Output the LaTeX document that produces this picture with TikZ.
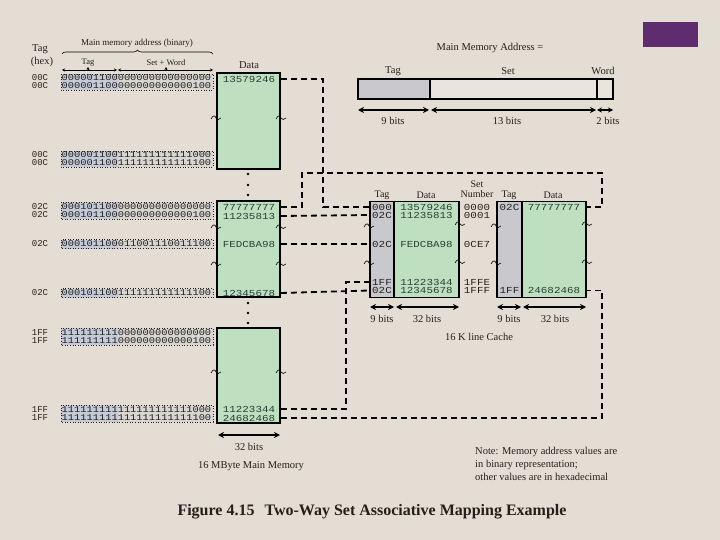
\documentclass[tikz,border=0pt]{standalone}
\usepackage{fontspec}
\setmainfont{Liberation Serif}
\setmonofont{Liberation Mono}
\newfontfamily\widemono[FakeStretch=1.18]{Liberation Mono}
\usetikzlibrary{arrows.meta,decorations.pathreplacing}
\definecolor{bg}{RGB}{227,221,211}
\definecolor{memgreen}{RGB}{190,224,192}
\definecolor{taggray}{RGB}{200,200,205}
\definecolor{addrblue}{RGB}{196,202,216}
\definecolor{addrrest}{RGB}{216,214,210}
\definecolor{setlight}{RGB}{233,229,221}
\definecolor{datatext}{RGB}{40,62,52}
\definecolor{purp}{RGB}{96,44,112}
\definecolor{ink}{RGB}{35,32,28}
\begin{document}
\begin{tikzpicture}[x=1pt,y=-1pt,
  lbl/.style={font=\fontsize{10.5}{12}\selectfont, inner sep=0, text=ink},
  bits/.style={font=\widemono\fontsize{8.8}{9}\selectfont, inner sep=0, anchor=west, text=ink},
  hexf/.style={font=\ttfamily\fontsize{9}{9}\selectfont, inner sep=0, text=ink},
  datf/.style={font=\widemono\fontsize{9.2}{9}\selectfont, inner sep=0, text=datatext},
  cachef/.style={font=\widemono\fontsize{9.2}{9}\selectfont, inner sep=0, text=ink},
  membox/.style={draw=black, line width=1.8pt, fill=memgreen, minimum width=63pt, inner sep=0},
  tagcol/.style={draw=black, line width=1.8pt, fill=taggray, inner sep=0},
  datacol/.style={draw=black, line width=1.8pt, fill=memgreen, inner sep=0},
  conn/.style={line width=1.8pt, dash pattern=on 6pt off 4pt, draw=black},
  dimarr/.style={line width=1.4pt, {Stealth[length=6pt,width=6pt]}-{Stealth[length=6pt,width=6pt]}},
  addrbox/.style={dotted, line width=0.6pt, draw=ink},
  brk/.pic={\draw[line width=0.6pt] (-5,1) .. controls (-3,-3) and (-1,-3) .. (0,0) .. controls (1,2) and (3,2) .. (5,0);}
]
\useasboundingbox[fill=bg] (0,0) rectangle (720,540);

% purple tab
\fill[purp] (643,22) rectangle (698,47);

% ---------- left headings ----------
\node[lbl] (hTag) at (40,49) {Tag};
\node[lbl] (hHex) at (42,62) {(hex)};
\node[lbl, font=\fontsize{9}{10}\selectfont] (hMain) at (137,43) {Main memory address (binary)};
\draw[decorate, decoration={brace, amplitude=4pt}, line width=0.6pt] (62,54) -- (213,54);
\node[lbl, font=\fontsize{8.5}{10}\selectfont] (hTag2) at (88,63) {Tag};
\node[lbl, font=\fontsize{8.5}{10}\selectfont] (hSW) at (166,63) {Set + Word};
\draw[line width=0.5pt, {Stealth[length=3pt,width=3pt]}-{Stealth[length=3pt,width=3pt]}] (62,70) -- (117,70);
\draw[line width=0.5pt, {Stealth[length=3pt,width=3pt]}-{Stealth[length=3pt,width=3pt]}] (118,70) -- (213,70);
\draw[line width=0.5pt, -{Stealth[length=3pt,width=3pt]}] (88,71) -- (88,67);
\draw[line width=0.5pt, -{Stealth[length=3pt,width=3pt]}] (166,71) -- (166,67);
\node[lbl] (hData) at (249,65) {Data};

% ---------- address rows ----------
% pair A
\fill[addrrest] (61,74) rectangle (213,90);
\fill[addrblue] (61,74) rectangle (117.5,90);
\draw[addrbox] (61,74) rectangle (213,90);
\node[bits] (bA1) at (61.5,78) {000001100000000000000000};
\node[bits] (bA2) at (61.5,86) {000001100000000000000100};
\node[hexf] (xA1) at (40,78) {00C};
\node[hexf] (xA2) at (40,86) {00C};
% pair B
\fill[addrrest] (61,151) rectangle (213,167);
\fill[addrblue] (61,151) rectangle (117.5,167);
\draw[addrbox] (61,151) rectangle (213,167);
\node[bits] (bB1) at (61.5,155) {000001100111111111111000};
\node[bits] (bB2) at (61.5,163) {000001100111111111111100};
\node[hexf] (xB1) at (40,155) {00C};
\node[hexf] (xB2) at (40,163) {00C};
% pair C
\fill[addrrest] (61,202.5) rectangle (213,219.5);
\fill[addrblue] (61,202.5) rectangle (117.5,219.5);
\draw[addrbox] (61,202.5) rectangle (213,219.5);
\node[bits] (bC1) at (61.5,207) {000101100000000000000000};
\node[bits] (bC2) at (61.5,215) {000101100000000000000100};
\node[hexf] (xC1) at (40,207) {02C};
\node[hexf] (xC2) at (40,215) {02C};
% row D
\fill[addrrest] (61,239.5) rectangle (213,248.5);
\fill[addrblue] (61,239.5) rectangle (117.5,248.5);
\draw[addrbox] (61,239.5) rectangle (213,248.5);
\node[bits] (bD) at (61.5,244) {000101100011001110011100};
\node[hexf] (xD) at (40,244) {02C};
% row E
\fill[addrrest] (61,288.5) rectangle (213,297.5);
\fill[addrblue] (61,288.5) rectangle (117.5,297.5);
\draw[addrbox] (61,288.5) rectangle (213,297.5);
\node[bits] (bE) at (61.5,293) {000101100111111111111100};
\node[hexf] (xE) at (40,293) {02C};
% pair F
\fill[addrrest] (61,328) rectangle (213,345);
\fill[addrblue] (61,328) rectangle (117.5,345);
\draw[addrbox] (61,328) rectangle (213,345);
\node[bits] (bF1) at (61.5,332.5) {111111111000000000000000};
\node[bits] (bF2) at (61.5,340.5) {111111111000000000000100};
\node[hexf] (xF1) at (40,332.5) {1FF};
\node[hexf] (xF2) at (40,340.5) {1FF};
% pair G
\fill[addrrest] (61,405) rectangle (213,422);
\fill[addrblue] (61,405) rectangle (117.5,422);
\draw[addrbox] (61,405) rectangle (213,422);
\node[bits] (bG1) at (61.5,409.5) {111111111111111111111000};
\node[bits] (bG2) at (61.5,417.5) {111111111111111111111100};
\node[hexf] (xG1) at (40,409.5) {1FF};
\node[hexf] (xG2) at (40,417.5) {1FF};

% ---------- main memory boxes ----------
\node[membox, minimum height=96pt] (box1) at (248.5,121) {};
\node[membox, minimum height=96pt] (box2) at (248.5,249) {};
\node[membox, minimum height=95pt] (box3) at (248.5,375.5) {};
\node[datf] (d1) at (249,79) {13579246};
\node[datf] (d2) at (249,207) {77777777};
\node[datf] (d3) at (249,216) {11235813};
\node[datf] (d4) at (249,244) {FEDCBA98};
\node[datf] (d5) at (249,293) {12345678};
\node[datf] (d6) at (249,409) {11223344};
\node[datf] (d7) at (249,418) {24682468};
% dots
\foreach \yy in {174,185,195} \fill (248,\yy) circle (1.3pt);
\foreach \yy in {303,313,323} \fill (248,\yy) circle (1.3pt);
% breaks
\pic at (216,118) {brk}; \pic at (281,118) {brk};
\pic at (216,227) {brk}; \pic at (281,227) {brk};
\pic at (216,264) {brk}; \pic at (281,264) {brk};
\pic at (216,372) {brk}; \pic at (281,372) {brk};
% 32 bits
\draw[dimarr] (218,435) -- (280,435);
\node[lbl] (mm32) at (249,447) {32 bits};
\node[lbl] (mmcap) at (251,466) {16 MByte Main Memory};

% ---------- address format ----------
\node[lbl] (fTitle) at (490,48) {Main Memory Address =};
\node[lbl] (fTag) at (393,71) {Tag};
\node[lbl] (fSet) at (508,71) {Set};
\node[lbl] (fWord) at (603,71) {Word};
\draw[line width=1.2pt, fill=taggray] (358,79) rectangle (430,99);
\draw[line width=1.2pt, fill=setlight] (430,79) rectangle (597,99);
\draw[line width=1.2pt, fill=setlight] (597,79) rectangle (613,99);
\draw[dimarr] (358,110) -- (429,110);
\draw[dimarr] (431,110) -- (596,110);
\draw[line width=1.2pt, {Stealth[length=5pt,width=5pt]}-{Stealth[length=5pt,width=5pt]}] (597,110) -- (613,110);
\node[lbl] (f9) at (393,121) {9 bits};
\node[lbl] (f13) at (507,121) {13 bits};
\node[lbl] (f2) at (608,121) {2 bits};

% ---------- cache ----------
\node[lbl, font=\fontsize{10}{11}\selectfont] (cTag1) at (382,195) {Tag};
\node[lbl, font=\fontsize{10}{11}\selectfont] (cData1) at (426,195) {Data};
\node[lbl, font=\fontsize{10}{11}\selectfont, align=center] (cSet) at (477,189) {Set\\[-1.5pt]Number};
\node[lbl, font=\fontsize{10}{11}\selectfont] (cTag2) at (509,195) {Tag};
\node[lbl, font=\fontsize{10}{11}\selectfont] (cData2) at (553,195) {Data};

\node[tagcol, minimum width=24pt, minimum height=96pt] (c1tag) at (382,249.5) {};
\node[datacol, minimum width=65pt, minimum height=96pt] (c1data) at (426.5,249.5) {};
\node[tagcol, minimum width=25pt, minimum height=96pt] (c2tag) at (509.5,249.5) {};
\node[datacol, minimum width=64pt, minimum height=96pt] (c2data) at (554,249.5) {};

\node[cachef] (t1) at (382,207) {000};
\node[cachef] (t2) at (382,215) {02C};
\node[cachef] (t3) at (382,244) {02C};
\node[cachef] (t4) at (382,282) {1FF};
\node[cachef] (t5) at (382,290.5) {02C};
\node[datf] (e1) at (426.5,207) {13579246};
\node[datf] (e2) at (426.5,215) {11235813};
\node[datf] (e3) at (426.5,244) {FEDCBA98};
\node[datf] (e4) at (426.5,282) {11223344};
\node[datf] (e5) at (426.5,290.5) {12345678};
\node[cachef] (s1) at (477,207) {0000};
\node[cachef] (s2) at (477,215) {0001};
\node[cachef] (s3) at (477,244) {0CE7};
\node[cachef] (s4) at (477,282) {1FFE};
\node[cachef] (s5) at (477,290.5) {1FFF};
\node[cachef] (u1) at (509.5,207) {02C};
\node[cachef] (u2) at (509.5,290.5) {1FF};
\node[datf] (g1) at (554,207) {77777777};
\node[datf] (g2) at (554,290.5) {24682468};

\pic at (369,226) {brk}; \pic at (460,224) {brk};
\pic at (369,263) {brk}; \pic at (460,262) {brk};
\pic at (496,226) {brk}; \pic at (587,224) {brk};
\pic at (496,263) {brk}; \pic at (587,262) {brk};

\draw[dimarr] (370,307) -- (394,307);
\draw[dimarr] (396,307) -- (459,307);
\draw[dimarr] (497,307) -- (521,307);
\draw[dimarr] (523,307) -- (586,307);
\node[lbl] (b9a) at (382,319) {9 bits};
\node[lbl] (b32a) at (427,319) {32 bits};
\node[lbl] (b9b) at (509,319) {9 bits};
\node[lbl] (b32b) at (555,319) {32 bits};
\node[lbl] (cCap) at (479,337) {16 K line Cache};

% ---------- connectors ----------
\draw[conn] (box1.east |- d1) -- (323,79) -- (323,207) -- (c1tag.west |- t1);
\draw[conn] (box2.east |- d2) -- (302,207) -- (302,173) -- (602,173) -- (602,207) -- (c2data.east |- g1);
\draw[conn] (box2.east |- d3) -- (c1tag.west |- t2);
\draw[conn] (box2.east |- d4) -- (c1tag.west |- t3);
\draw[conn] (box2.east |- d5) -- (c1tag.west |- t5);
\draw[conn] (box3.east |- d6) -- (346,409) -- (346,282) -- (c1tag.west |- t4);
\draw[conn] (box3.east |- d7) -- (602,418) -- (602,290.5) -- (c2data.east |- g2);

% ---------- note and caption ----------
\node[lbl, font=\fontsize{10.5}{13}\selectfont, align=left, anchor=north west] (note) at (475,447) {Note: Memory address values are\\in binary representation;\\other values are in hexadecimal};
\node[lbl, font=\bfseries\fontsize{16}{18}\selectfont] (caption) at (372,512) {Figure 4.15\hspace{10pt}Two-Way Set Associative Mapping Example};
\end{tikzpicture}
\end{document}
